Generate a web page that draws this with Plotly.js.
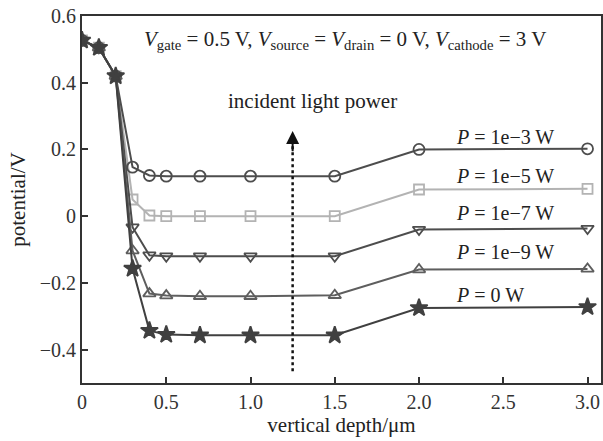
<!DOCTYPE html>
<html>
<head>
<meta charset="utf-8">
<script src="https://cdn.plot.ly/plotly-3.0.1.min.js"></script>
<style>html,body{margin:0;padding:0;background:#fff;}#chart{width:603px;height:441px;}</style>
</head>
<body>
<div id="chart"></div>
<script>
const depth = [0, 0.1, 0.2, 0.3, 0.4, 0.5, 0.7, 1.0, 1.5, 2.0, 3.0];
const p1e3 = [0.527, 0.505, 0.42, 0.147, 0.122, 0.12, 0.12, 0.12, 0.12, 0.2, 0.202];
const p1e5 = [0.527, 0.505, 0.42, 0.05, 0.002, 0.0, 0.0, 0.0, 0.0, 0.08, 0.082];
const p1e7 = [0.527, 0.505, 0.42, -0.033, -0.117, -0.12, -0.12, -0.12, -0.12, -0.04, -0.037];
const p1e9 = [0.527, 0.505, 0.42, -0.103, -0.232, -0.238, -0.24, -0.24, -0.237, -0.16, -0.158];
const p0 = [0.527, 0.505, 0.42, -0.157, -0.343, -0.355, -0.357, -0.357, -0.357, -0.275, -0.272];
const seriesNames = ["P = 1e−3 W", "P = 1e−5 W", "P = 1e−7 W", "P = 1e−9 W", "P = 0 W"];
const labelX = [2.51, 2.51, 2.51, 2.51, 2.42];
const labelY = [0.238, 0.12, 0.01, -0.108, -0.237];
const xTickVals = [0, 0.5, 1.0, 1.5, 2.0, 2.5, 3.0];
const xTickText = ["0", "0.5", "1.0", "1.5", "2.0", "2.5", "3.0"];
const yTickVals = [-0.4, -0.2, 0, 0.2, 0.4, 0.6];
const yTickText = ["−0.4", "−0.2", "0", "0.2", "0.4", "0.6"];

const styles = [
  {color: "#4d4d4d", symbol: "circle-open", size: 11},
  {color: "#b3b3b3", symbol: "square-open", size: 10},
  {color: "#4d4d4d", symbol: "triangle-down-open", size: 11},
  {color: "#5e5e5e", symbol: "triangle-up-open", size: 11},
  {color: "#404040", symbol: "star", size: 13}
];
const ys = [p1e3, p1e5, p1e7, p1e9, p0];
const order = [1, 0, 2, 3, 4];
const traces = order.map(i => ({
  x: depth, y: ys[i], type: "scatter", mode: "lines+markers", name: seriesNames[i],
  line: {color: styles[i].color, width: 2},
  marker: {symbol: styles[i].symbol, size: styles[i].size, color: styles[i].color,
           line: {color: styles[i].color, width: 1.8}},
  showlegend: false
}));

const font = "Liberation Serif, Times New Roman, serif";
const annotations = seriesNames.map((n, i) => ({
  x: labelX[i], y: labelY[i], xref: "x", yref: "y",
  text: n.replace("P", "<i>P</i>"), showarrow: false,
  font: {family: font, size: 20, color: "#222"}
}));
annotations.push({
  xref: "paper", yref: "paper", x: 0.507, y: 0.935, xanchor: "center", yanchor: "middle",
  text: "<i>V</i><sub>gate</sub> = 0.5 V, <i>V</i><sub>source</sub> = <i>V</i><sub>drain</sub> = 0 V, <i>V</i><sub>cathode</sub> = 3 V",
  showarrow: false, font: {family: font, size: 21, color: "#222"}
});
annotations.push({
  x: 1.37, y: 0.345, xref: "x", yref: "y", text: "incident light power",
  showarrow: false, font: {family: font, size: 21, color: "#222"}
});
annotations.push({
  x: 1.25, y: 0.255, ax: 1.25, ay: 0.19, xref: "x", yref: "y", axref: "x", ayref: "y",
  text: "", showarrow: true, arrowhead: 2, arrowsize: 1.3, arrowwidth: 2, arrowcolor: "#111"
});

const layout = {
  width: 603, height: 441,
  margin: {l: 82, r: 2, t: 16, b: 58},
  paper_bgcolor: "#fff", plot_bgcolor: "#fff",
  font: {family: font, size: 20, color: "#333"},
  xaxis: {
    range: [0, 3.08], tickvals: xTickVals, ticktext: xTickText,
    ticks: "inside", ticklen: 6, tickwidth: 2, tickcolor: "#333",
    showline: true, linewidth: 2, linecolor: "#333", mirror: true,
    showgrid: false, zeroline: false,
    title: {text: "vertical depth/μm", font: {family: font, size: 21, color: "#222"}, standoff: 4}
  },
  yaxis: {
    range: [-0.5, 0.6], tickvals: yTickVals, ticktext: yTickText,
    ticks: "inside", ticklen: 6, tickwidth: 2, tickcolor: "#333",
    showline: true, linewidth: 2, linecolor: "#333", mirror: true,
    showgrid: false, zeroline: false,
    title: {text: "potential/V", font: {family: font, size: 21, color: "#222"}, standoff: 8}
  },
  shapes: [{
    type: "line", xref: "x", yref: "y", x0: 1.25, x1: 1.25, y0: -0.465, y1: 0.24,
    line: {color: "#111", width: 2.5, dash: "dot"}
  }],
  annotations: annotations
};
Plotly.newPlot("chart", traces, layout, {displayModeBar: false, staticPlot: true});
</script>
</body>
</html>
